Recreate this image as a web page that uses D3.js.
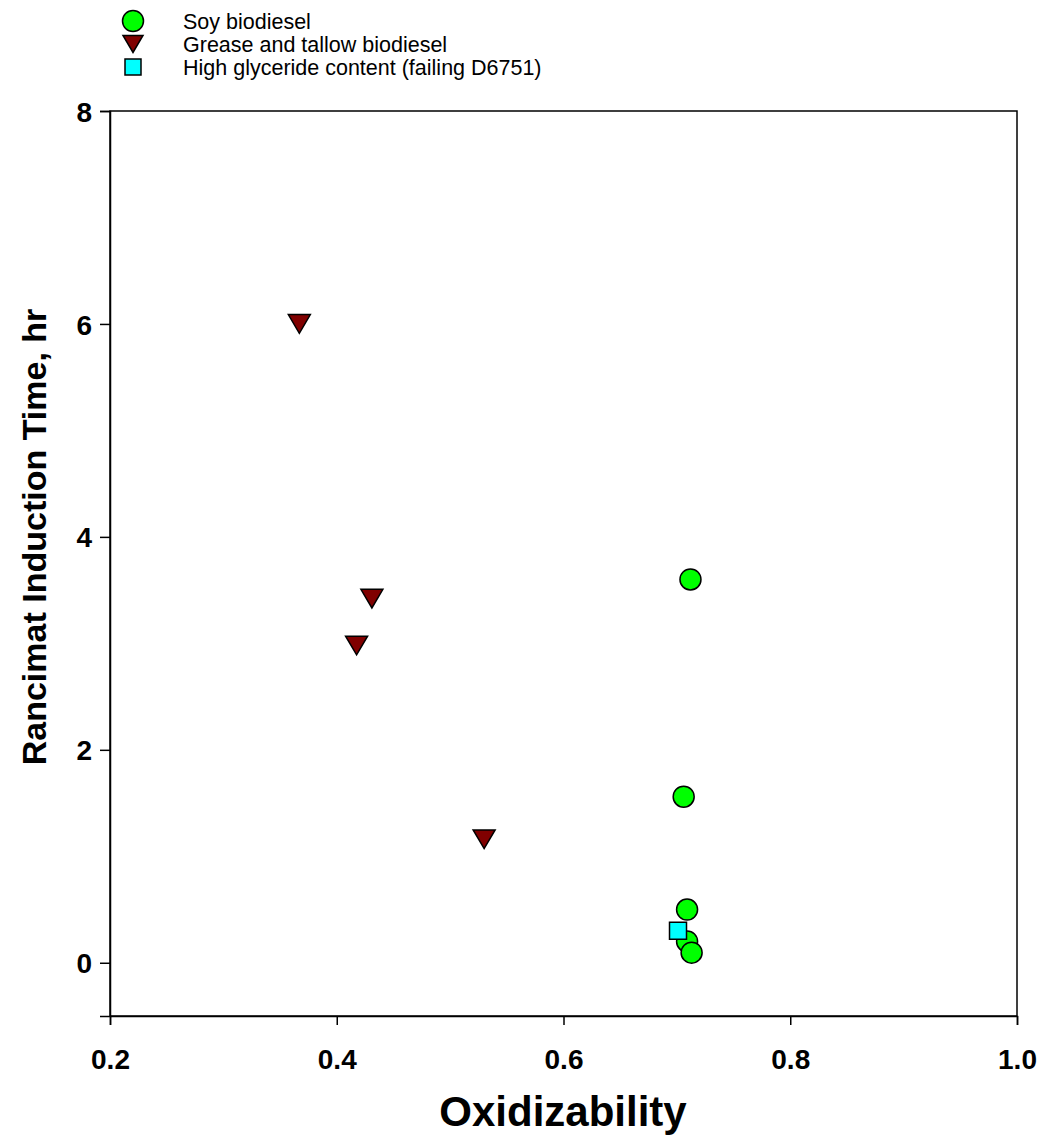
<!DOCTYPE html>
<html>
<head>
<meta charset="utf-8">
<script src="https://cdn.jsdelivr.net/npm/d3@7"></script>
<style>
  html, body { margin: 0; padding: 0; background: #fff; }
  svg { display: block; font-family: Arial, "Liberation Sans", sans-serif; }
</style>
</head>
<body>
<svg id="chart" width="1040" height="1136"></svg>
<script>
// ---- data ----
const soyX = [0.712, 0.706, 0.709, 0.709, 0.713];
const soyY = [3.60, 1.56, 0.50, 0.20, 0.095];
const greaseX = [0.367, 0.431, 0.4175, 0.530];
const greaseY = [6.00, 3.42, 2.98, 1.16];
const glycX = [0.701];
const glycY = [0.30];
const xTicks = [0.2, 0.4, 0.6, 0.8, 1.0];
const yTicks = [0, 2, 4, 6, 8];
const legendLabels = ["Soy biodiesel", "Grease and tallow biodiesel", "High glyceride content (failing D6751)"];
const xTitle = "Oxidizability";
const yTitle = "Rancimat Induction Time, hr";

// ---- layout ----
const svg = d3.select("#chart");
const L = 110, R = 1017, T = 111, B = 1016;
const x = d3.scaleLinear().domain([0.2, 1.0]).range([L, R]);
const y = d3.scaleLinear().domain([-0.5, 8]).range([B, T]);

// frame
svg.append("rect").attr("x", L).attr("y", T).attr("width", R - L).attr("height", B - T)
  .attr("fill", "none").attr("stroke", "#000").attr("stroke-width", 1.5);

// axes
const xAxis = svg.append("g").attr("transform", `translate(0,${B})`)
  .call(d3.axisBottom(x).tickValues(xTicks).tickFormat(d3.format(".1f")).tickSize(9).tickPadding(24));
const yAxis = svg.append("g").attr("transform", `translate(${L},0)`)
  .call(d3.axisLeft(y).tickValues(yTicks).tickFormat(d3.format("d")).tickSize(10).tickPadding(8));
[xAxis, yAxis].forEach(g => {
  g.select(".domain").attr("stroke", "#000").attr("stroke-width", 1.5);
  g.selectAll(".tick line").attr("stroke", "#000").attr("stroke-width", 1.5);
  g.selectAll(".tick text").attr("fill", "#000").style("font-size", "28px").style("font-weight", "bold")
    .style("font-family", "Arial, 'Liberation Sans', sans-serif");
});
yAxis.selectAll(".tick text").attr("dy", "0.36em");

// titles
svg.append("text").attr("x", 563).attr("y", 1126).attr("text-anchor", "middle")
  .style("font-size", "42px").style("font-weight", "bold").text(xTitle);
svg.append("text").attr("transform", `translate(46,537) rotate(-90)`).attr("text-anchor", "middle")
  .style("font-size", "34px").style("font-weight", "bold").text(yTitle);

// markers
const triPath = (s) => { const w = s, h = s * 0.85; return `M${-w/2},${-h/2}L${w/2},${-h/2}L0,${h/2}Z`; };
const sqPath = (s) => `M${-s/2},${-s/2}h${s}v${s}h${-s}Z`;

const grease = greaseX.map((v, i) => ({ x: v, y: greaseY[i] }));
const soy = soyX.map((v, i) => ({ x: v, y: soyY[i] }));
const glyc = glycX.map((v, i) => ({ x: v, y: glycY[i] }));

svg.append("g").selectAll("path").data(grease).join("path")
  .attr("d", triPath(22)).attr("transform", d => `translate(${x(d.x)},${y(d.y)})`)
  .attr("fill", "#800000").attr("stroke", "#000").attr("stroke-width", 1.5);
svg.append("g").selectAll("circle").data(soy).join("circle")
  .attr("cx", d => x(d.x)).attr("cy", d => y(d.y)).attr("r", 10.5)
  .attr("fill", "#00ff00").attr("stroke", "#000").attr("stroke-width", 1.5);
svg.append("g").selectAll("path").data(glyc).join("path")
  .attr("d", sqPath(17)).attr("transform", d => `translate(${x(d.x)},${y(d.y)})`)
  .attr("fill", "#00ffff").attr("stroke", "#000").attr("stroke-width", 1.5);

// legend
const lg = svg.append("g");
const rowY = [21, 44, 67];
lg.append("circle").attr("cx", 133).attr("cy", rowY[0]).attr("r", 10.5)
  .attr("fill", "#00ff00").attr("stroke", "#000").attr("stroke-width", 1.5);
lg.append("path").attr("d", triPath(20)).attr("transform", `translate(133,${rowY[1]})`)
  .attr("fill", "#800000").attr("stroke", "#000").attr("stroke-width", 1.5);
lg.append("path").attr("d", sqPath(16)).attr("transform", `translate(133,${rowY[2]})`)
  .attr("fill", "#00ffff").attr("stroke", "#000").attr("stroke-width", 1.5);
legendLabels.forEach((t, i) => {
  lg.append("text").attr("x", 183).attr("y", rowY[i]).attr("dy", "0.35em")
    .style("font-size", "21.5px").text(t);
});
</script>
</body>
</html>
